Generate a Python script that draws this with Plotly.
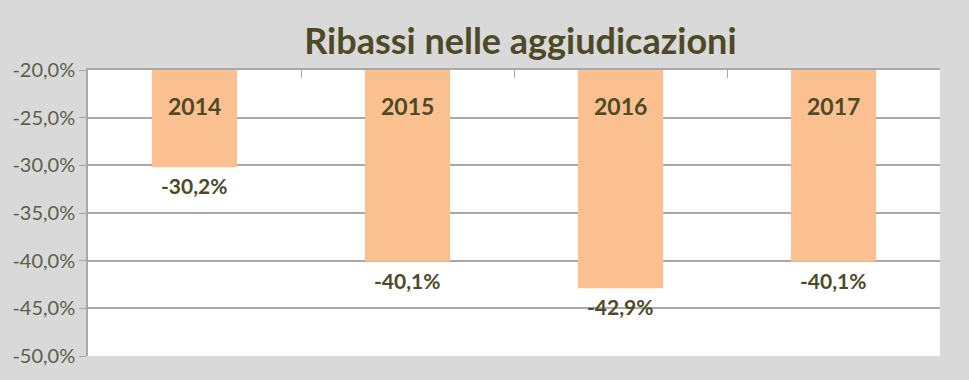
import plotly.graph_objects as go

years = ["2014", "2015", "2016", "2017"]
ribassi = [-0.302, -0.401, -0.429, -0.401]
value_labels = ["-30,2%", "-40,1%", "-42,9%", "-40,1%"]
tick_vals = [-0.20, -0.25, -0.30, -0.35, -0.40, -0.45, -0.50]
tick_text = ["-20,0%", "-25,0%", "-30,0%", "-35,0%", "-40,0%", "-45,0%", "-50,0%"]
title = "Ribassi nelle aggiudicazioni"

text_col = "#4d4a28"
tick_col = "#5e5e48"
grid_col = "#a8a8a8"
font = "Lato, 'Open Sans', sans-serif"

fig = go.Figure()
fig.add_trace(go.Bar(
    x=years, y=ribassi, marker_color="#fac090", marker_line_width=0,
    width=0.4, hoverinfo="skip",
))

annotations = []
for i, (yr, v, lab) in enumerate(zip(years, ribassi, value_labels)):
    annotations.append(dict(x=i, y=tick_vals[0], xref="x", yref="y", text=f"<b>{yr}</b>",
                            showarrow=False, yanchor="top", yshift=-20,
                            font=dict(family=font, size=23, color=text_col)))
    annotations.append(dict(x=i, y=v, xref="x", yref="y", text=f"<b>{lab}</b>",
                            showarrow=False, yanchor="top", yshift=-4,
                            font=dict(family=font, size=21, color=text_col)))

fig.update_layout(
    width=969, height=380,
    paper_bgcolor="#d9d9d9", plot_bgcolor="#ffffff",
    margin=dict(l=88, r=29, t=70, b=24),
    showlegend=False,
    title=dict(text=f"<b>{title}</b>", x=0.537, xanchor="center", y=0.89, yanchor="middle",
               font=dict(family=font, size=36, color=text_col)),
    annotations=annotations,
    xaxis=dict(type="category", range=[-0.5, len(years) - 0.5], side="top",
               showticklabels=False, tickson="boundaries",
               ticks="inside", ticklen=8, tickcolor=grid_col, showline=True,
               linecolor=grid_col, linewidth=1.5, showgrid=False, zeroline=False),
    yaxis=dict(range=[-0.5, -0.2], tickvals=tick_vals, ticktext=tick_text, ticks="outside",
               ticklen=7, tickcolor=grid_col, showline=True, linecolor=grid_col, linewidth=1.5,
               showgrid=True, gridcolor=grid_col, gridwidth=1.5, zeroline=False,
               tickfont=dict(family=font, size=20, color=tick_col)),
)

fig.write_html("out.html", config={"displayModeBar": False},
               post_script="document.body.style.margin='0';")
